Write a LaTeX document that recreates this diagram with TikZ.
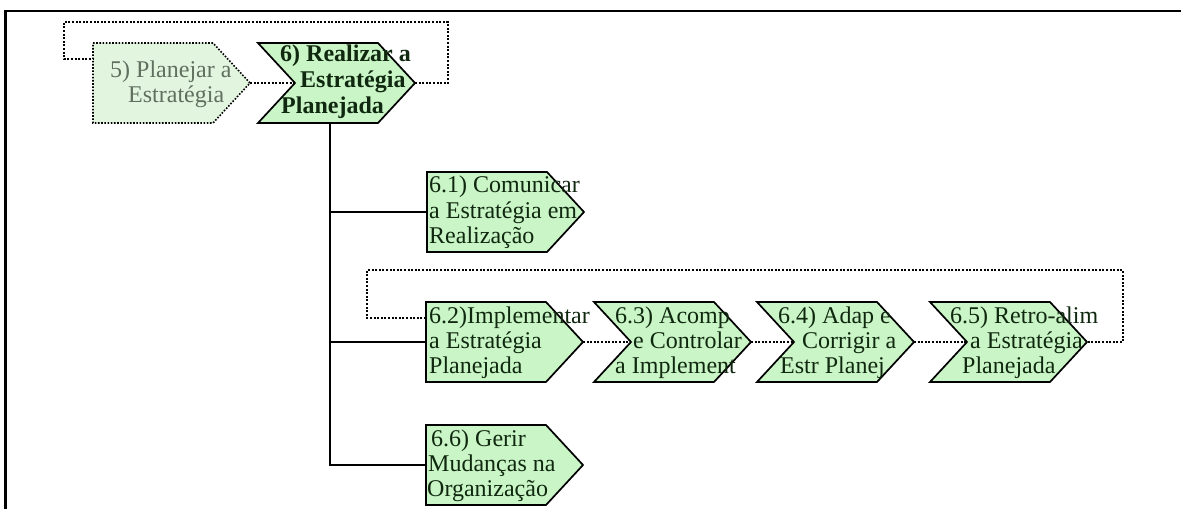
\documentclass[tikz,border=0pt]{standalone}
\usepackage{fontspec}
\setmainfont{Liberation Serif}
\definecolor{boxgreen}{RGB}{202,245,198}
\definecolor{paleGreen}{RGB}{226,246,223}
\definecolor{ink}{RGB}{15,40,15}
\definecolor{fadedink}{RGB}{95,112,95}
\begin{document}
\begin{tikzpicture}[x=1pt,y=-1pt,
  shapeline/.style={draw=black,line width=1.7pt,fill=boxgreen,line join=miter},
  fadedline/.style={draw=black,line width=1.6pt,dash pattern=on 1.6pt off 1.6pt,fill=paleGreen},
  conn/.style={draw=black,line width=1.6pt},
  dots/.style={draw=black,line width=2pt,dash pattern=on 2pt off 1.6pt},
  txt/.style={anchor=base west,inner sep=0pt,text=ink,font=\fontsize{24}{25}\selectfont},
  fadedtxt/.style={txt,text=fadedink},
  boldtxt/.style={txt,font=\fontsize{24}{25}\selectfont\bfseries},
  pics/chev/.style={code={
    \path[#1] (0,0) -- (120,0) -- (157,40) -- (120,80) -- (0,80) -- (37,40) -- cycle;
    \coordinate (-tip) at (157,40);
    \coordinate (-notch) at (37,40);
    \coordinate (-bot) at (72,80);
  }},
  pics/chev/.default=shapeline,
  pics/pent/.style={code={
    \path[#1] (0,0) -- (120,0) -- (157,40) -- (120,80) -- (0,80) -- cycle;
    \coordinate (-tip) at (157,40);
    \coordinate (-west) at (0,40);
    \coordinate (-wup) at (0,16);
  }},
  pics/pent/.default=shapeline]
\useasboundingbox (0,0) rectangle (1181,509);

% frame
\draw[line width=2.2pt] (5.5,509) -- (5.5,11) -- (1181,11);

% shapes
\pic (p5)  at (93,43)   {pent=fadedline};
\pic (c6)  at (258,43)  {chev};
\pic (p61) at (427,172) {pent};
\pic (p62) at (426,302) {pent};
\pic (c63) at (594,302) {chev};
\pic (c64) at (757,302) {chev};
\pic (c65) at (930,302) {chev};
\pic (p66) at (426,425) {pent};

% routing corners of the feedback loops
\coordinate (tpR) at (448,22);
\coordinate (tpL) at (64,22);
\coordinate (lpL) at (367,270);
\coordinate (lpR) at (1123,270);

% dotted sequence and feedback connectors
\draw[dots] (p5-tip) -- (c6-notch);
\draw[dots] (c6-tip) -| (tpR) -- (tpL) |- (p5-wup);
\draw[dots] (p62-tip) -- (c63-notch);
\draw[dots] (c63-tip) -- (c64-notch);
\draw[dots] (c64-tip) -- (c65-notch);
\draw[dots] (p62-wup) -| (lpL) -- (lpR) |- (c65-tip);

% solid tree connectors
\draw[conn] (c6-bot) -- (c6-bot |- p66-west) -- (p66-west);
\draw[conn] (c6-bot |- p61-west) -- (p61-west);
\draw[conn] (c6-bot |- p62-west) -- (p62-west);

% labels
\node[fadedtxt] (t5a) at (110,77)  {5) Planejar a};
\node[fadedtxt] (t5b) at (128,102) {Estratégia};

\node[boldtxt] (t6a) at (280,61)  {6) Realizar a};
\node[boldtxt] (t6b) at (300,87)  {Estratégia};
\node[boldtxt] (t6c) at (281,113) {Planejada};

\node[txt] (t61a) at (429,192) {6.1) Comunicar};
\node[txt] (t61b) at (429,218) {a Estratégia em};
\node[txt] (t61c) at (429,243) {Realização};

\node[txt] (t62a) at (429,323) {6.2)Implementar};
\node[txt] (t62b) at (429,348) {a Estratégia};
\node[txt] (t62c) at (429,373) {Planejada};

\node[txt] (t63a) at (615,323) {6.3) Acomp};
\node[txt] (t63b) at (633,348) {e Controlar};
\node[txt] (t63c) at (615,373) {a Implement};

\node[txt] (t64a) at (778,323) {6.4) Adap e};
\node[txt] (t64b) at (802,348) {Corrigir a};
\node[txt] (t64c) at (780,373) {Estr Planej};

\node[txt] (t65a) at (950,323) {6.5) Retro-alim};
\node[txt] (t65b) at (970,348) {a Estratégia};
\node[txt] (t65c) at (962,373) {Planejada};

\node[txt] (t66a) at (431,446) {6.6) Gerir};
\node[txt] (t66b) at (428,471) {Mudanças na};
\node[txt] (t66c) at (427,496) {Organização};
\end{tikzpicture}
\end{document}
